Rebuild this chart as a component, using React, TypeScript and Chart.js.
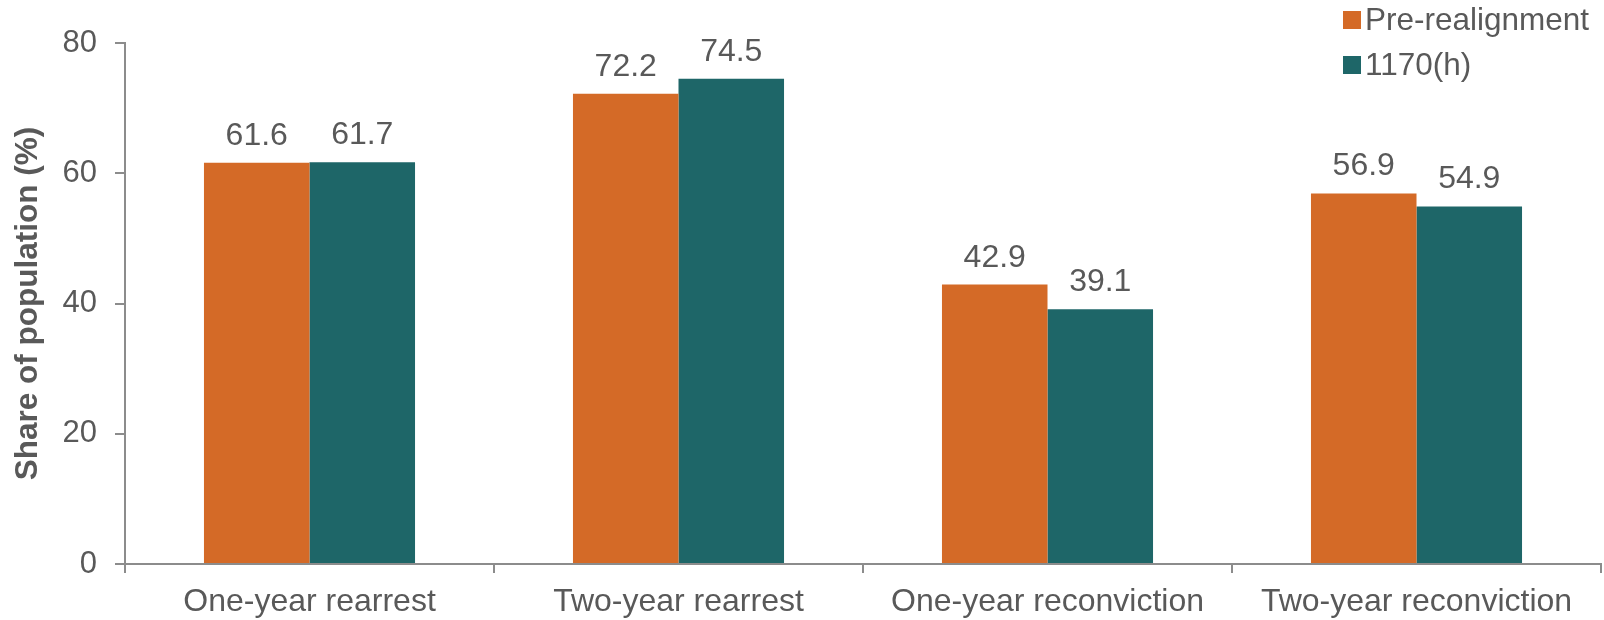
import React, { useEffect, useRef } from "react";
import { Chart, registerables } from "chart.js";

Chart.register(...registerables);

const categories = ["One-year rearrest", "Two-year rearrest", "One-year reconviction", "Two-year reconviction"];
const preRealignment = [61.6, 72.2, 42.9, 56.9];
const h1170 = [61.7, 74.5, 39.1, 54.9];
const seriesNames = ["Pre-realignment", "1170(h)"];
const yTicks = [0, 20, 40, 60, 80];

const ORANGE = "#D46A27";
const TEAL = "#1E6668";
const TEXT = "#595959";
const AXIS = "#8C8C8C";
const FONT = "'Liberation Sans', Arial, sans-serif";

const valueLabels = {
  id: "valueLabels",
  afterDatasetsDraw(chart: any) {
    const ctx = chart.ctx;
    ctx.save();
    ctx.fillStyle = TEXT;
    ctx.font = `32px ${FONT}`;
    ctx.textAlign = "center";
    ctx.textBaseline = "alphabetic";
    chart.data.datasets.forEach((ds: any, di: number) => {
      const meta = chart.getDatasetMeta(di);
      meta.data.forEach((el: any, i: number) => {
        ctx.fillText(ds.data[i].toFixed(1), el.x, el.y - 18);
      });
    });
    ctx.restore();
  },
};

const customLegend = {
  id: "customLegend",
  afterDraw(chart: any) {
    const ctx = chart.ctx;
    ctx.save();
    ctx.font = `31.5px ${FONT}`;
    ctx.textAlign = "left";
    ctx.textBaseline = "middle";
    chart.data.datasets.forEach((ds: any, di: number) => {
      const cy = 20 + di * 45;
      ctx.fillStyle = ds.backgroundColor;
      ctx.fillRect(1343, cy - 9, 18, 18);
      ctx.fillStyle = TEXT;
      ctx.fillText(ds.label, 1365, cy + 1);
    });
    ctx.restore();
  },
};

export default function App() {
  const ref = useRef<HTMLCanvasElement>(null);
  useEffect(() => {
    document.body.style.margin = "0";
    const chart = new Chart(ref.current!, {
      type: "bar",
      data: {
        labels: categories,
        datasets: [
          { label: seriesNames[0], data: preRealignment, backgroundColor: ORANGE, categoryPercentage: 0.572, barPercentage: 1.0 },
          { label: seriesNames[1], data: h1170, backgroundColor: TEAL, categoryPercentage: 0.572, barPercentage: 1.0 },
        ],
      },
      options: {
        animation: false,
        responsive: false,
        maintainAspectRatio: false,
        layout: { padding: { top: 43, right: 3, left: 0, bottom: 0 } },
        plugins: { legend: { display: false }, tooltip: { enabled: false } },
        scales: {
          x: {
            offset: true,
            grid: { offset: true, drawOnChartArea: false, drawTicks: true, tickLength: 9, color: AXIS, lineWidth: 2 },
            border: { color: AXIS, width: 2 },
            ticks: { color: TEXT, font: { family: FONT, size: 32 }, padding: 10 },
            afterFit(scale: any) { scale.height = 56; },
          },
          y: {
            min: 0,
            max: 80,
            afterBuildTicks(scale: any) { scale.ticks = yTicks.map((v) => ({ value: v })); },
            grid: { drawOnChartArea: false, drawTicks: true, tickLength: 10, color: AXIS, lineWidth: 2 },
            border: { color: AXIS, width: 2 },
            ticks: { color: TEXT, font: { family: FONT, size: 31 }, padding: 18 },
            title: { display: true, text: "Share of population (%)", color: TEXT, font: { family: FONT, size: 31.5, weight: "bold" }, padding: { top: 9, bottom: 0 } },
            afterFit(scale: any) { scale.width = 125; },
          },
        },
      },
      plugins: [valueLabels, customLegend],
    });
    return () => chart.destroy();
  }, []);
  return (
    <div style={{ position: "absolute", left: 0, top: 0, width: 1604, height: 620, background: "#fff" }}>
      <canvas ref={ref} width={1604} height={620} />
    </div>
  );
}
